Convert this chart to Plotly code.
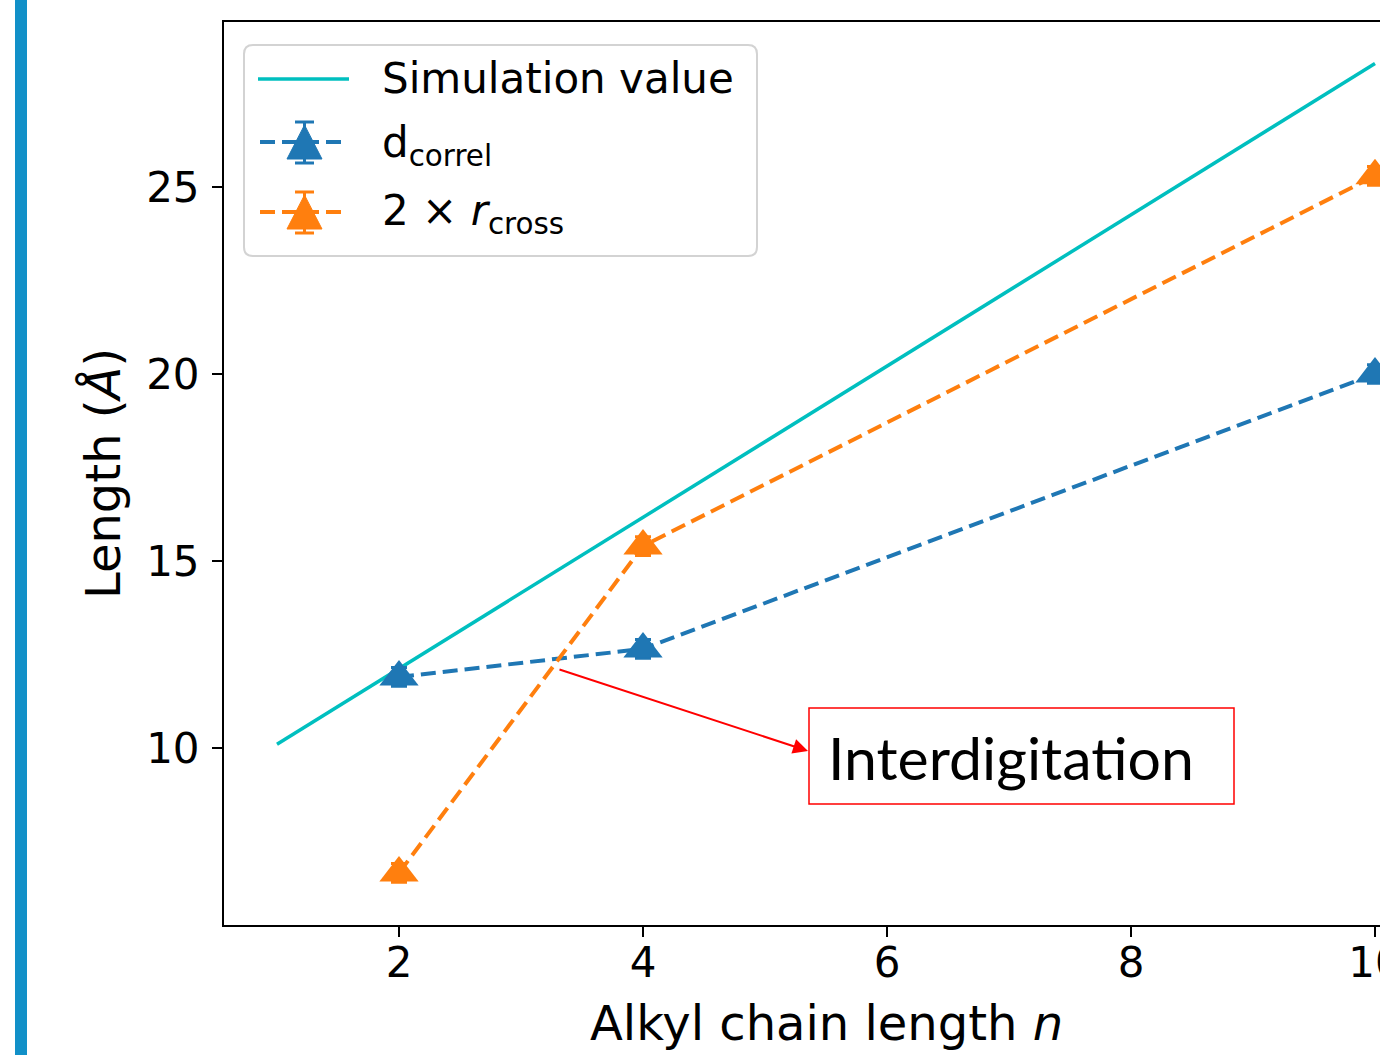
import plotly.graph_objects as go

# ---------------- data ----------------
n_sim = [1, 10]
sim_length = [10.1, 28.3]

n_exp = [2, 4, 10]
d_correl = [11.9, 12.65, 20.0]
d_correl_err = [0.25, 0.25, 0.25]
r_cross2 = [6.66, 15.4, 25.3]
r_cross2_err = [0.25, 0.25, 0.25]

x_tick_vals = [2, 4, 6, 8, 10]
y_tick_vals = [10, 15, 20, 25]

legend_names = ["Simulation value", "d<sub>correl</sub>", "2 × <i>r</i><sub>cross</sub>"]
x_title = "Alkyl chain length <i>n</i>"
y_title = "Length (<i>Å</i>)"
note_text = "Interdigitation"

# ---------------- layout geometry ----------------
W, H = 1380, 1055
ML, MR, MT, MB = 224, 0, 22, 130
PW, PH = W - ML - MR, H - MT - MB


def px(x):
    return (x - ML) / PW


def py(y):
    return (H - MB - y) / PH


# pixel -> data helpers (axis calibration)
def dx(p):
    return 2 + (p - 399) / 122.0


def dy(p):
    return 10 + (748 - p) / 37.4


X_RANGE = [dx(ML), dx(W - MR)]
Y_RANGE = [dy(H - MB), dy(MT)]

CYAN = "#00bfbf"
BLUE = "#1f77b4"
ORANGE = "#ff7f0e"
DASH = "15px,7px"
FONT = "DejaVu Sans"

fig = go.Figure()
fig.add_trace(go.Scatter(x=n_sim, y=sim_length, mode="lines",
                         line=dict(color=CYAN, width=3.5), name=legend_names[0]))
fig.add_trace(go.Scatter(x=n_exp, y=d_correl, mode="lines+markers",
                         line=dict(color=BLUE, width=4, dash=DASH),
                         marker=dict(symbol="triangle-up", size=34, color=BLUE),
                         error_y=dict(type="data", array=d_correl_err, color=BLUE,
                                      thickness=3, width=8),
                         name=legend_names[1]))
fig.add_trace(go.Scatter(x=n_exp, y=r_cross2, mode="lines+markers",
                         line=dict(color=ORANGE, width=4, dash=DASH),
                         marker=dict(symbol="triangle-up", size=34, color=ORANGE),
                         error_y=dict(type="data", array=r_cross2_err, color=ORANGE,
                                      thickness=3, width=8),
                         name=legend_names[2]))

shapes = []
# left decorative blue bar
shapes.append(dict(type="rect", xref="paper", yref="paper",
                   x0=px(15), x1=px(27), y0=py(H), y1=py(0),
                   fillcolor="#1190C8", line=dict(width=0), layer="above"))


def rounded_rect(x0, y0, x1, y1, r):
    pts = [
        ("M", [(x0 + r, y0)]), ("L", [(x1 - r, y0)]), ("Q", [(x1, y0), (x1, y0 + r)]),
        ("L", [(x1, y1 - r)]), ("Q", [(x1, y1), (x1 - r, y1)]), ("L", [(x0 + r, y1)]),
        ("Q", [(x0, y1), (x0, y1 - r)]), ("L", [(x0, y0 + r)]), ("Q", [(x0, y0), (x0 + r, y0)]),
    ]
    s = ""
    for cmd, ps in pts:
        s += cmd + " ".join("%.6f,%.6f" % (px(a), py(b)) for a, b in ps)
    return s + "Z"


# legend frame
shapes.append(dict(type="path", xref="paper", yref="paper",
                   path=rounded_rect(244, 45, 757, 256, 9),
                   fillcolor="rgba(255,255,255,0.85)",
                   line=dict(color="#d3d3d3", width=2)))


def pline(x0, y0, x1, y1, color, width, dash=None):
    ln = dict(color=color, width=width)
    if dash:
        ln["dash"] = dash
    return dict(type="line", xref="paper", yref="paper",
                x0=px(x0), y0=py(y0), x1=px(x1), y1=py(y1), line=ln)


# legend row 1
shapes.append(pline(258, 79, 349, 79, CYAN, 3.5))
# legend rows 2 and 3
for yc, col in [(142, BLUE), (212, ORANGE)]:
    shapes.append(pline(260, yc, 348, yc, col, 4, DASH))
    shapes.append(pline(304.5, yc - 20, 304.5, yc + 21, col, 3))
    shapes.append(pline(295, yc - 20, 314, yc - 20, col, 3))
    shapes.append(pline(295, yc + 21, 314, yc + 21, col, 3))
    tri = "M%.6f,%.6f L%.6f,%.6f L%.6f,%.6f Z" % (
        px(304.5), py(yc - 17), px(287), py(yc + 17), px(322), py(yc + 17))
    shapes.append(dict(type="path", xref="paper", yref="paper", path=tri,
                       fillcolor=col, line=dict(color=col, width=1)))

# annotation box
shapes.append(dict(type="rect", xref="paper", yref="paper",
                   x0=px(809), x1=px(1234), y0=py(804), y1=py(708),
                   line=dict(color="#ff0000", width=1.5)))

fig.update_layout(shapes=shapes)

annotations = []
# legend texts
for txt, yc in [(legend_names[0], 78.5), (legend_names[1], 146), (legend_names[2], 214)]:
    annotations.append(dict(text=txt, xref="paper", yref="paper", x=px(380), y=py(yc),
                            xanchor="left", yanchor="middle", showarrow=False,
                            font=dict(family=FONT, size=42, color="black")))
# axis titles
annotations.append(dict(text=x_title, xref="paper", yref="paper", x=px(826), y=py(1023),
                        xanchor="center", yanchor="middle", showarrow=False,
                        font=dict(family=FONT, size=48, color="black")))
annotations.append(dict(text=y_title, xref="paper", yref="paper", x=px(103), y=py(474),
                        xanchor="center", yanchor="middle", showarrow=False, textangle=-90,
                        font=dict(family=FONT, size=48, color="black")))
# arrow
annotations.append(dict(text="", xref="x", yref="y", x=dx(808), y=dy(751),
                        axref="x", ayref="y", ax=dx(558), ay=dy(669),
                        showarrow=True, arrowhead=2, arrowsize=1.5, arrowwidth=2,
                        arrowcolor="#ff0000", standoff=0))
# note text
annotations.append(dict(text=note_text, xref="paper", yref="paper", x=px(826), y=py(757),
                        xanchor="left", yanchor="middle", showarrow=False,
                        font=dict(family="Lato", size=59, color="black")))
fig.update_layout(annotations=annotations)

axis_common = dict(showline=True, linecolor="black", linewidth=2,
                   ticks="outside", ticklen=10, tickwidth=2, tickcolor="black",
                   showgrid=False, zeroline=False, automargin=False,
                   tickfont=dict(family=FONT, size=42, color="black"))
fig.update_xaxes(range=X_RANGE, tickvals=x_tick_vals, mirror=True,
                 ticklabeloverflow="allow", ticklabelstandoff=-10, **axis_common)
fig.update_yaxes(range=Y_RANGE, tickvals=y_tick_vals, mirror=False,
                 ticklabelstandoff=4, **axis_common)

fig.update_layout(width=W, height=H, margin=dict(l=ML, r=MR, t=MT, b=MB, pad=0),
                  plot_bgcolor="white", paper_bgcolor="white", showlegend=False)

fig.write_html("out.html")
